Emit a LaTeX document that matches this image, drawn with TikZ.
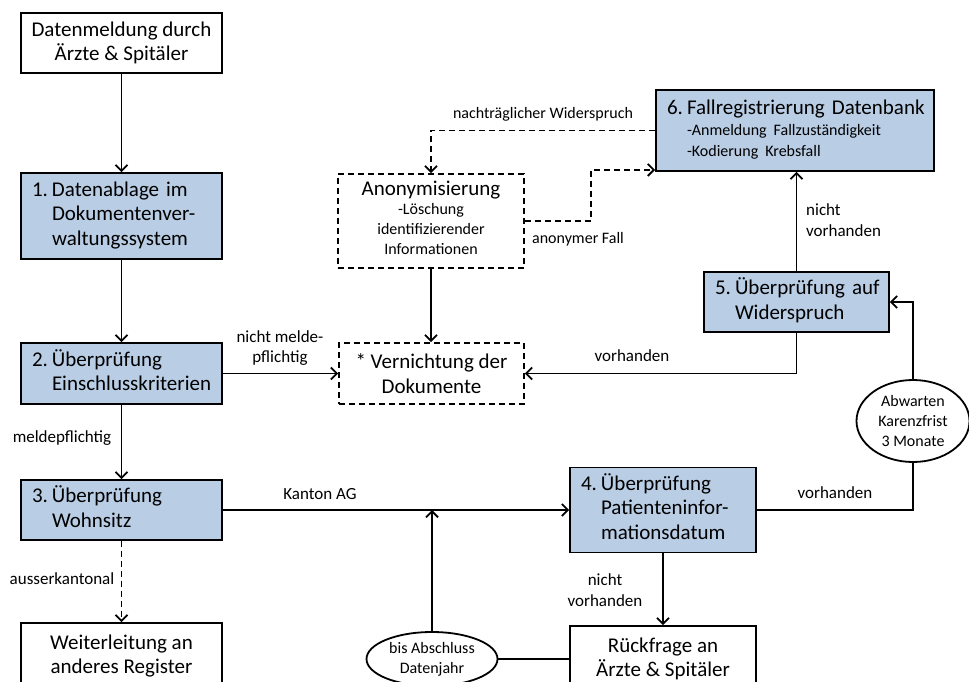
\documentclass[tikz,border=0pt]{standalone}
\usepackage{fontspec}
\setmainfont{Carlito}
\usepackage{xcolor}
\usepackage{tikz}
\usetikzlibrary{shapes.geometric,arrows.meta,positioning}
\tikzset{>={Straight Barb[length=6pt,width=12pt]}}
\definecolor{StepFill}{HTML}{B9CDE5}
\definecolor{LineBlack}{HTML}{000000}
\newcommand{\boxfont}{\fontsize{21}{24.5}\selectfont}
\newcommand{\notefont}{\fontsize{17}{20.5}\selectfont}
\newcommand{\ovalfont}{\fontsize{16}{20}\selectfont}
\newcommand{\numlist}[2]{\begin{tabular}{@{}p{20pt}@{}l@{}}#1&#2\end{tabular}}
\tikzset{
  stepbox/.style={draw=LineBlack, line width=1.8pt, fill=StepFill, font=\boxfont,
    align=left, inner xsep=11pt, inner ysep=0pt},
  plainbox/.style={draw=LineBlack, line width=1.8pt, fill=white, font=\boxfont,
    align=center, inner sep=0pt},
  dashbox/.style={plainbox, dash pattern=on 6pt off 4pt},
  waitoval/.style={ellipse, draw=LineBlack, line width=1.8pt, fill=white,
    font=\ovalfont, align=center, inner sep=0pt},
  lbl/.style={font=\notefont, align=center, inner sep=0pt},
  flow/.style={line width=1.8pt, draw=LineBlack},
  dashflow/.style={flow, dash pattern=on 6pt off 4pt}
}

\begin{document}
\begin{tikzpicture}[x=1pt,y=-1pt]
  \useasboundingbox (0,0) rectangle (969,682);

  % linke Spalte
  \node[plainbox, minimum width=201pt, minimum height=60pt] (meldung) at (121.5,43) {Datenmeldung durch\\Ärzte \& Spitäler};
  \node[stepbox, text width=179pt, minimum height=86pt] (ablage) at (121.5,216) {\numlist{1.}{Datenablage im\\&Dokumentenver-\\&waltungssystem}};
  \node[stepbox, text width=179pt, minimum height=61pt] (einschluss) at (121.5,373.5) {\numlist{2.}{Überprüfung\\&Einschlusskriterien}};
  \node[stepbox, text width=179pt, minimum height=60pt] (wohnsitz) at (121.5,510) {\numlist{3.}{Überprüfung\\&Wohnsitz}};
  \node[plainbox, minimum width=201pt, minimum height=66pt] (weiterleitung) at (121.5,656) {Weiterleitung an\\anderes Register};

  % Mitte
  \node[dashbox, minimum width=186pt, minimum height=94pt] (anonym) at (431,221) {Anonymisierung\\{\ovalfont\begin{tabular}{@{}c@{}}-Löschung\\identifizierender\\Informationen\end{tabular}}};
  \node[dashbox, minimum width=185pt, minimum height=61pt] (vernichtung) at (431.5,373.5) {* Vernichtung der\\Dokumente};
  \node[stepbox, text width=164pt, minimum height=85pt] (patinfo) at (663,510) {\numlist{4.}{Überprüfung\\&Patienteninfor-\\&mationsdatum}};
  \node[plainbox, minimum width=186pt, minimum height=66pt] (rueckfrage) at (663,659) {Rückfrage an\\Ärzte \& Spitäler};
  \node[waitoval, minimum width=131pt, minimum height=54pt] (abschluss) at (432,659) {bis Abschluss\\Datenjahr};

  % rechte Spalte
  \node[stepbox, text width=256pt, minimum height=81pt] (fallreg) at (795,130.5) {\numlist{6.}{Fallregistrierung Datenbank\\[-3pt]&\ovalfont -Anmeldung Fallzuständigkeit\\[-4pt]&\ovalfont -Kodierung Krebsfall}};
  \node[stepbox, text width=163pt, minimum height=60pt] (widerspruch) at (796.5,302) {\numlist{5.}{Überprüfung auf\\&Widerspruch}};
  \node[waitoval, minimum width=113pt, minimum height=82pt] (karenz) at (913,421) {Abwarten\\Karenzfrist\\3 Monate};

  % Verbindungen
  \draw[flow, ->] (meldung) -- (ablage);
  \draw[flow, ->] (ablage) -- (einschluss);
  \draw[flow, ->] (einschluss) -- (wohnsitz);
  \draw[flow, ->] (einschluss) -- (vernichtung);
  \draw[dashflow, ->] (wohnsitz) -- (weiterleitung);
  \draw[flow, ->] (wohnsitz) -- (patinfo);
  \draw[flow, ->] (abschluss.north) -- (abschluss.north |- wohnsitz.east);
  \draw[flow] (abschluss) -- (rueckfrage);
  \draw[flow, ->] (patinfo) -- (rueckfrage);
  \draw[flow] (patinfo.east) -| (karenz.south);
  \draw[flow, ->] (karenz.north) |- (widerspruch.east);
  \draw[flow, ->] (widerspruch.south) |- (vernichtung.east);
  \draw[flow, ->] (widerspruch.north) -- (widerspruch.north |- fallreg.south);
  \draw[flow, ->] (anonym.south) -- (anonym.south |- vernichtung.north);
  \draw[dashflow, ->] (fallreg.west) -| (anonym.north);
  \draw[dashflow, ->] (anonym.east) -- ++(66,0) |- ([yshift=2pt]fallreg.south west);

  % Beschriftungen
  \node[lbl] (lmeldepfl) at (62,438) {meldepflichtig};
  \node[lbl] (lnichtmelde) at (280,348) {nicht melde-\\pflichtig};
  \node[lbl] (lausser) at (62,579) {ausserkantonal};
  \node[lbl] (lkanton) at (320,494) {Kanton AG};
  \node[lbl] (lnichtpat) at (605,590) {nicht\\vorhanden};
  \node[lbl] (lvorhpat) at (835,493) {vorhanden};
  \node[lbl] (lvorhwid) at (632,356) {vorhanden};
  \node[lbl, anchor=west, align=left] (lnichtwid) at (806,220) {nicht\\vorhanden};
  \node[lbl, font=\ovalfont] (lnachtr) at (543,114) {nachträglicher Widerspruch};
  \node[lbl, font=\ovalfont] (lanonym) at (578,239) {anonymer Fall};
\end{tikzpicture}
\end{document}
